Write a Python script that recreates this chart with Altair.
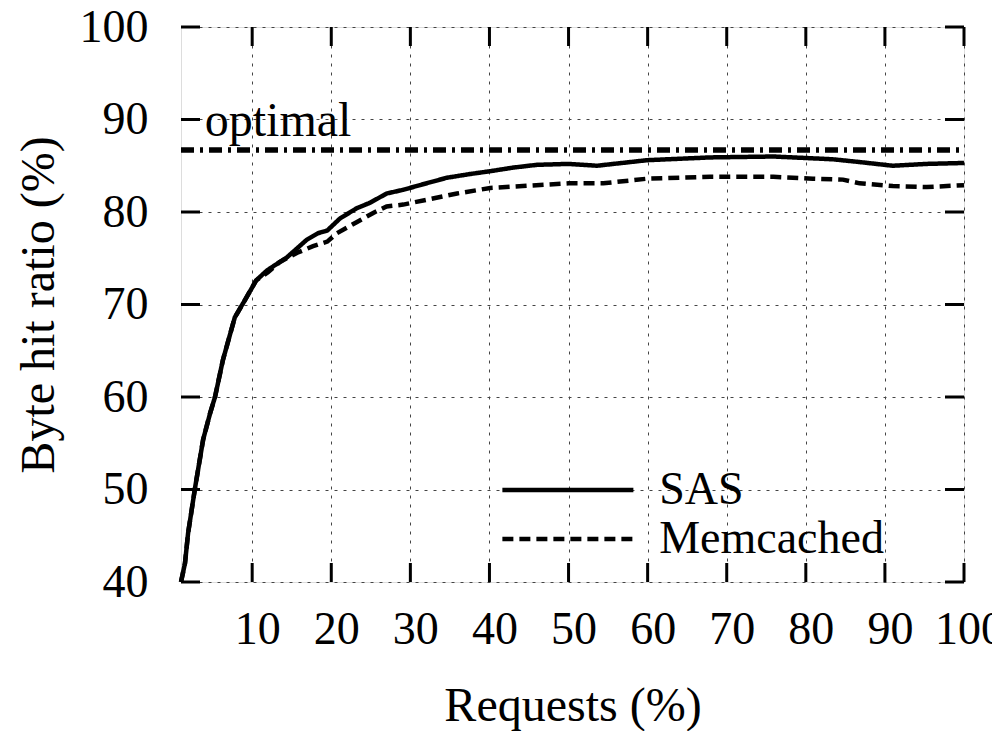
import altair as alt
import pandas as pd

# ---- data ----
sas_x = [1, 1.5, 1.9, 2.8, 3.8, 4.7, 5.3, 6.3, 7.8, 9.1, 10.5, 11.9, 14.4, 16.9, 18.3, 19.5,
         21.1, 23.2, 24.9, 27, 29.1, 31.6, 34.6, 37.5, 40, 43, 46, 50, 53.6, 59.9, 67.9,
         75.9, 83.4, 86.8, 91, 95.3, 100]
sas_y = [40, 42, 45.3, 50.3, 55.4, 58.3, 60, 64, 68.6, 70.5, 72.6, 73.7, 75.1, 77, 77.7, 78,
         79.3, 80.4, 81, 82, 82.4, 83, 83.7, 84.1, 84.4, 84.8, 85.1, 85.2, 85.0, 85.6, 85.9,
         86.0, 85.7, 85.4, 85.0, 85.2, 85.3]

mem_x = [1, 1.5, 1.9, 2.8, 3.8, 4.7, 5.3, 6.3, 7.8, 9.1, 10.5, 12, 13.5, 15.7, 17.7, 19.5,
         20.7, 23.2, 25.3, 27, 29.1, 32.5, 35.9, 40.1, 44.2, 50, 54.4, 59.9, 67.9, 75.9,
         80.9, 84.7, 86.8, 91, 95.3, 100]
mem_y = [40, 42, 45.3, 50.3, 55.4, 58.3, 60, 64, 68.6, 70.5, 72.6, 73.5, 74.6, 75.6, 76.3,
         76.8, 77.7, 78.9, 79.9, 80.6, 80.8, 81.4, 82.0, 82.6, 82.8, 83.1, 83.1, 83.6, 83.8,
         83.8, 83.6, 83.5, 83.1, 82.8, 82.7, 82.9]

optimal_value = 86.7
optimal_label = "optimal"
series_names = ["SAS", "Memcached"]
x_ticks = [10, 20, 30, 40, 50, 60, 70, 80, 90, 100]
y_ticks = [40, 50, 60, 70, 80, 90, 100]
x_domain = [1, 100]
y_domain = [40, 100]

# ---- layout ----
W, H = 783, 555
FONT = "Liberation Serif"
TICK_PX = 19
tick_dx = TICK_PX * (x_domain[1] - x_domain[0]) / W
tick_dy = TICK_PX * (y_domain[1] - y_domain[0]) / H

# legend line: custom path 8 units long -> half length = 2*sqrt(size)
LEG_LINE = 131
leg_size = (LEG_LINE / 4.0) ** 2
leg_col = (LEG_LINE / 4.0) + 4.5
leg_half = LEG_LINE / 2.0

curves = pd.concat([
    pd.DataFrame({"x": sas_x, "y": sas_y, "series": series_names[0]}),
    pd.DataFrame({"x": mem_x, "y": mem_y, "series": series_names[1]}),
])

xs = alt.Scale(domain=x_domain, nice=False, zero=False)
ys = alt.Scale(domain=y_domain, nice=False, zero=False)

x_axis = alt.Axis(values=x_ticks, title="Requests (%)", labelFontSize=46, labelFont=FONT,
                  labelColor="black", ticks=False, domain=False, labelPadding=25,
                  labelOffset=5, titleFont=FONT, titleFontSize=48, titleFontWeight="normal",
                  titleColor="black", titlePadding=30, grid=True, gridDash=[3, 6],
                  gridColor="#444", gridWidth=1, labelFlush=False, labelOverlap=False)
y_axis = alt.Axis(values=y_ticks, title="Byte hit ratio (%)", labelFontSize=46, labelFont=FONT,
                  labelColor="black", ticks=False, domain=False, labelPadding=33,
                  titleFont=FONT, titleFontSize=48, titleFontWeight="normal",
                  titleColor="black", titlePadding=16, grid=True, gridDash=[3, 6],
                  gridColor="#444", gridWidth=1, labelFlush=False, labelOverlap=False)

base_axes = alt.Chart(curves).mark_line(opacity=0).encode(
    x=alt.X("x:Q", scale=xs, axis=x_axis),
    y=alt.Y("y:Q", scale=ys, axis=y_axis),
)

opt_df = pd.DataFrame({"x": [x_domain[0]], "x2": [x_domain[1]], "y": [optimal_value]})
opt_rule = alt.Chart(opt_df).mark_rule(color="black", strokeWidth=5.5, strokeDash=[13, 6, 3, 6]).encode(
    x=alt.X("x:Q", scale=xs), x2="x2:Q", y=alt.Y("y:Q", scale=ys)
)

lines = alt.Chart(curves).mark_line(color="black", strokeWidth=4.5).encode(
    x=alt.X("x:Q", scale=xs),
    y=alt.Y("y:Q", scale=ys),
    strokeDash=alt.StrokeDash(
        "series:N",
        scale=alt.Scale(domain=series_names, range=[[1, 0], [11, 6]]),
        sort=series_names,
        legend=alt.Legend(
            title=None, orient="none", legendX=317 + leg_half - leg_col / 2.0, legendY=440,
            symbolType="M-4,0L4,0", symbolSize=leg_size, symbolStrokeWidth=4.5,
            symbolStrokeColor="black", labelFont=FONT, labelFontSize=46,
            labelColor="black", labelOffset=171 - leg_half - leg_col,
            rowPadding=3, padding=0, labelLimit=400,
        ),
    ),
)

# inward tick marks on all four sides
xt = pd.DataFrame({"x": x_ticks})
yt = pd.DataFrame({"y": y_ticks})
bottom_ticks = alt.Chart(xt).mark_rule(color="black", strokeWidth=3).encode(
    x=alt.X("x:Q", scale=xs), y=alt.datum(y_domain[0], scale=ys), y2=alt.datum(y_domain[0] + tick_dy))
top_ticks = alt.Chart(xt).mark_rule(color="black", strokeWidth=3).encode(
    x=alt.X("x:Q", scale=xs), y=alt.datum(y_domain[1] - tick_dy, scale=ys), y2=alt.datum(y_domain[1]))
left_ticks = alt.Chart(yt).mark_rule(color="black", strokeWidth=3).encode(
    y=alt.Y("y:Q", scale=ys), x=alt.datum(x_domain[0], scale=xs), x2=alt.datum(x_domain[0] + tick_dx))
right_ticks = alt.Chart(yt).mark_rule(color="black", strokeWidth=3).encode(
    y=alt.Y("y:Q", scale=ys), x=alt.datum(x_domain[1] - tick_dx, scale=xs), x2=alt.datum(x_domain[1]))

label_df = pd.DataFrame({"x": [4.0], "y": [88.2], "t": [optimal_label]})
opt_text = alt.Chart(label_df).mark_text(font=FONT, fontSize=48, align="left",
                                         baseline="alphabetic", color="black").encode(
    x=alt.X("x:Q", scale=xs), y=alt.Y("y:Q", scale=ys), text="t:N")

chart = alt.layer(
    base_axes, opt_rule, lines, bottom_ticks, top_ticks, left_ticks, right_ticks, opt_text
).properties(
    width=W, height=H,
    padding={"left": 181, "top": 27, "right": 28, "bottom": 149},
    autosize=alt.AutoSizeParams(type="none"),
).configure_view(
    stroke="black", strokeWidth=3.5
).configure(background="white")

chart.save("out.html", embed_options={"renderer": "svg", "actions": False})
